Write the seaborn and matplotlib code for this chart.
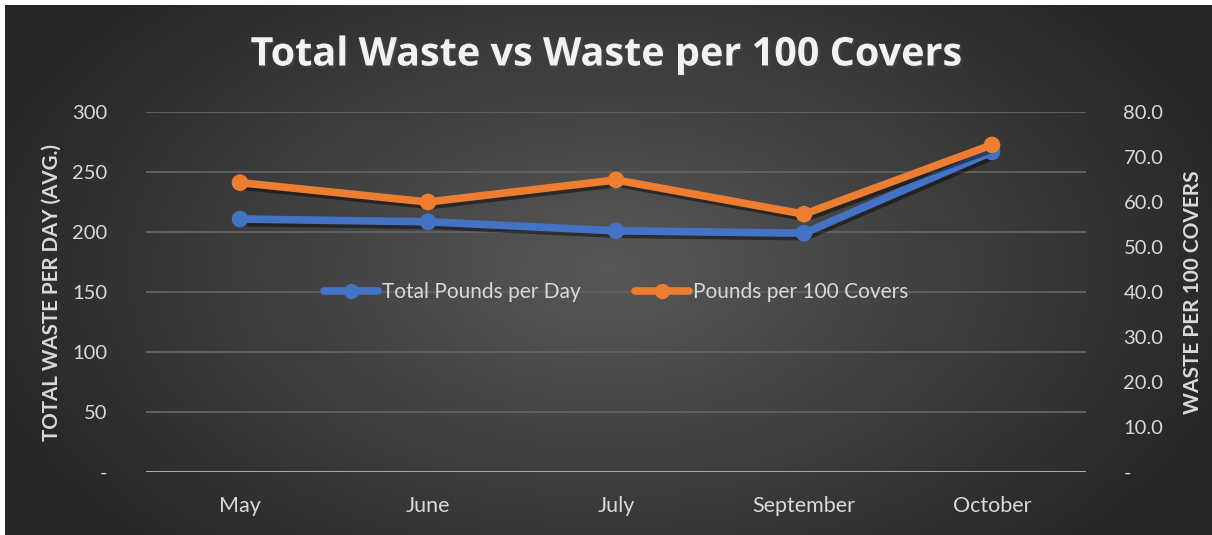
import numpy as np
import pandas as pd
import matplotlib
matplotlib.use('Agg')
import matplotlib.pyplot as plt
import matplotlib.patheffects as pe
from matplotlib.lines import Line2D
import seaborn as sns

# data
months = ['May', 'June', 'July', 'September', 'October']
total_pounds = [210.8, 208.5, 201.0, 199.0, 266.7]
per_100_covers = [64.3, 60.0, 64.9, 57.3, 72.7]

left_ticks = [0, 50, 100, 150, 200, 250, 300]
right_ticks = [0, 10, 20, 30, 40, 50, 60, 70, 80]

df = pd.DataFrame({'Month': months, 'Total': total_pounds, 'Per100': per_100_covers})
df['x'] = range(len(months))

sns.set_style('dark')
plt.rcParams['font.family'] = ['Lato', 'DejaVu Sans']

blue = '#4472C4'
orange = '#ED7D31'
txt = '#D9D9D9'

fig = plt.figure(figsize=(12.12, 5.35), dpi=100)
fig.patch.set_facecolor('white')

# radial gradient background (Excel style)
bg = fig.add_axes([5 / 1212, 0, 1 - 5 / 1212, 1 - 5 / 535])
yy, xx = np.mgrid[0:1:300j, 0:1:600j]
r = np.sqrt(((xx - 0.5) / 0.55) ** 2 + ((yy - 0.5) / 0.75) ** 2)
r = np.clip(r, 0, 1)
bg.imshow(r, cmap=matplotlib.colors.LinearSegmentedColormap.from_list('g', ['#585858', '#262626']),
          aspect='auto', extent=[0, 1, 0, 1], interpolation='bilinear')
bg.axis('off')

ax = fig.add_axes([146 / 1212, 1 - 472 / 535, 940 / 1212, 360 / 535])
ax.patch.set_alpha(0)
ax2 = ax.twinx()
ax2.patch.set_alpha(0)

shadow = [pe.SimpleLineShadow(offset=(1.5, -2.5), shadow_color='black', alpha=0.45), pe.Normal()]

sns.lineplot(data=df, x='x', y='Total', ax=ax, color=blue, linewidth=5.5,
             marker='o', markersize=12, markeredgewidth=0, path_effects=shadow)
sns.lineplot(data=df, x='x', y='Per100', ax=ax2, color=orange, linewidth=5.5,
             marker='o', markersize=12, markeredgewidth=0, path_effects=shadow)

ax.set_xlim(-0.5, len(months) - 0.5)
ax.set_ylim(0, 300)
ax2.set_ylim(0, 80)

ax.set_yticks(left_ticks)
ax.set_yticklabels(['-' if v == 0 else str(v) for v in left_ticks])
ax2.set_yticks(right_ticks)
ax2.set_yticklabels(['-' if v == 0 else f'{v:.1f}' for v in right_ticks])
ax.set_xticks(df['x'])
ax.set_xticklabels(months)

for a in (ax, ax2):
    for s in a.spines.values():
        s.set_visible(False)
    a.tick_params(length=0, colors=txt, labelsize=14.5)
    a.grid(False)
ax.tick_params(axis='x', labelsize=15.5, pad=17)
ax.tick_params(axis='y', pad=28)
ax2.tick_params(axis='y', pad=27)

for v in left_ticks[1:]:
    ax.axhline(v, color='#5E5E5E', linewidth=1.5, zorder=0)
ax.axhline(0, color='#A6A6A6', linewidth=2.2, zorder=0)

ax.set_xlabel('')
ax.set_ylabel('TOTAL WASTE PER DAY (AVG.)', color=txt, fontsize=14.8, fontweight='bold', labelpad=7)
ax2.set_ylabel('WASTE PER 100 COVERS', color=txt, fontsize=15, fontweight='bold', labelpad=14)

handles = [Line2D([], [], color=blue, linewidth=5.5, marker='o', markersize=10),
           Line2D([], [], color=orange, linewidth=5.5, marker='o', markersize=10)]
leg = ax.legend(handles, ['Total Pounds per Day', 'Pounds per 100 Covers'], loc='center',
                bbox_to_anchor=(0.5, 0.5), ncol=2, frameon=False, fontsize=15,
                labelcolor=txt, handlelength=2.6, columnspacing=2.6, handletextpad=0.2)

fig.text(0.5, 1 - 55 / 535, 'Total Waste vs Waste per 100 Covers', ha='center', va='center',
         color='#F2F2F2', fontsize=28.5, fontweight='bold', family=['Open Sans', 'DejaVu Sans'],
         path_effects=[pe.withSimplePatchShadow(offset=(1.5, -1.5), alpha=0.6)])

fig.savefig('out.png', dpi=100)
